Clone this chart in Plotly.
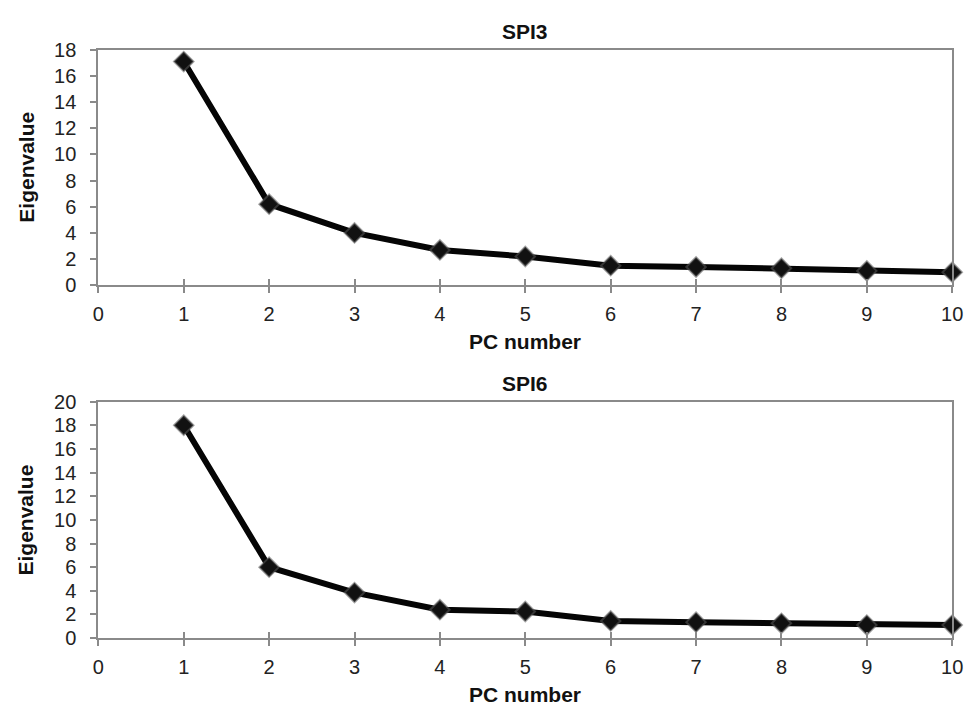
import plotly.graph_objects as go

pc_numbers = [1, 2, 3, 4, 5, 6, 7, 8, 9, 10]
spi3_eigen = [17.1, 6.2, 4.0, 2.7, 2.2, 1.5, 1.4, 1.3, 1.1, 1.0]
spi6_eigen = [18.0, 6.0, 3.85, 2.4, 2.25, 1.45, 1.35, 1.25, 1.1, 1.1]
titles = ["SPI3", "SPI6"]
x_title = "PC number"
y_title = "Eigenvalue"

FONT = "Liberation Sans, Arial, sans-serif"
AXC = "#8a8a8a"
W, H = 975, 715

fig = go.Figure()

def add_series(x, y, xa, ya):
    fig.add_trace(go.Scatter(
        x=x, y=y, mode="lines+markers", xaxis=xa, yaxis=ya,
        line=dict(color="#050505", width=6),
        marker=dict(symbol="diamond", size=15, color="#111111",
                    line=dict(color="rgba(90,90,90,0.55)", width=2)),
        cliponaxis=False, showlegend=False, hoverinfo="x+y"))

add_series(pc_numbers, spi3_eigen, "x", "y")
add_series(pc_numbers, spi6_eigen, "x2", "y2")

xdom = [94 / W, 963 / W]
ydom_top = [1 - 283 / H, 1 - 40 / H]
ydom_bot = [1 - 647 / H, 1 - 403 / H]

tickfont = dict(family=FONT, size=20, color="#222222")

def xaxis(anchor, overlay=None, inside=False):
    d = dict(domain=xdom, range=[0, 10], dtick=1, tick0=0, anchor=anchor,
             showgrid=False, zeroline=False, showline=True, linecolor=AXC,
             linewidth=2, ticks="inside" if inside else "outside",
             ticklen=6, tickwidth=2, tickcolor=AXC, tickfont=tickfont,
             fixedrange=True)
    if inside:
        d.update(showticklabels=False, overlaying=overlay, showline=False)
    else:
        d.update(mirror=True, ticklabelstandoff=4, ticklabeloverflow="allow")
    return d

def yaxis(anchor, dom, top):
    return dict(domain=dom, range=[0, top], dtick=2, tick0=0, anchor=anchor,
                showgrid=False, zeroline=False, showline=True, linecolor=AXC,
                linewidth=2, mirror=True, ticks="outside", ticklen=6,
                tickwidth=2, tickcolor=AXC, tickfont=tickfont,
                ticklabelstandoff=10, ticklabeloverflow="allow", fixedrange=True)

fig.update_layout(
    width=W, height=H,
    margin=dict(l=0, r=0, t=0, b=0),
    paper_bgcolor="white", plot_bgcolor="white",
    xaxis=xaxis("y"),
    yaxis=yaxis("x", ydom_top, 18),
    xaxis2=xaxis("y2"),
    yaxis2=yaxis("x2", ydom_bot, 20),
    xaxis3=xaxis("y", overlay="x", inside=True),
    xaxis4=xaxis("y2", overlay="x2", inside=True),
)

# dummy traces so overlay axes render
fig.add_trace(go.Scatter(x=[None], y=[None], xaxis="x3", yaxis="y", showlegend=False, hoverinfo="skip"))
fig.add_trace(go.Scatter(x=[None], y=[None], xaxis="x4", yaxis="y2", showlegend=False, hoverinfo="skip"))

titlefont = dict(family=FONT, size=21, color="#111111")
xc = (xdom[0] + xdom[1]) / 2
anns = []
for t, ytitle_px, yx_px, ymid_px in [(titles[0], 21, 341, 161), (titles[1], 384, 705, 525)]:
    anns.append(dict(text="<b>%s</b>" % t, x=xc, y=1 - ytitle_px / H, xref="paper", yref="paper",
                     showarrow=False, font=titlefont, xanchor="center", yanchor="middle"))
    anns.append(dict(text="<b>%s</b>" % x_title, x=xc, y=1 - yx_px / H, xref="paper", yref="paper",
                     showarrow=False, font=titlefont, xanchor="center", yanchor="middle"))
    anns.append(dict(text="<b>%s</b>" % y_title, x=20 / W, y=1 - ymid_px / H, xref="paper", yref="paper",
                     showarrow=False, font=titlefont, textangle=-90, xanchor="center", yanchor="middle"))
fig.update_layout(annotations=anns)

fig.write_html("out.html")
